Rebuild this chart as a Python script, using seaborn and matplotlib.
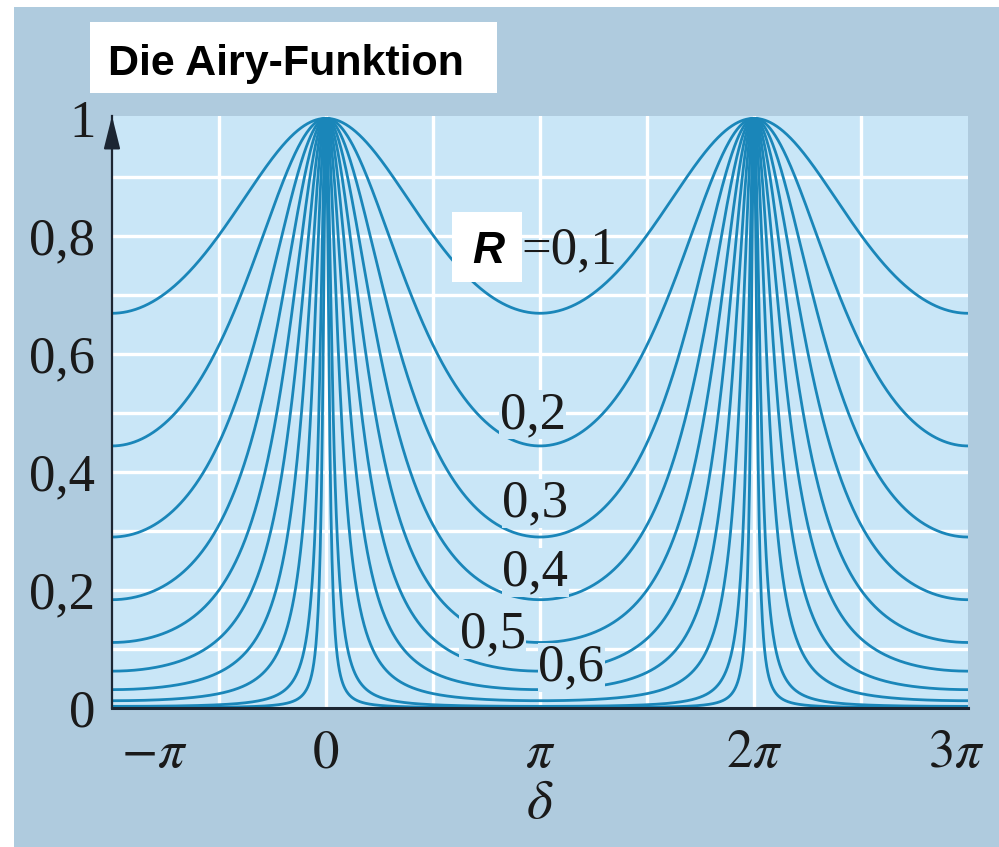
import matplotlib
matplotlib.use("Agg")
import matplotlib.pyplot as plt
from matplotlib.patches import Rectangle
from matplotlib.transforms import ScaledTranslation
import seaborn as sns
import pandas as pd
import numpy as np

# reflectivity values of the plotted curves (labels 0,1 ... 0,6 visible, rest below)
R_values = [0.1, 0.2, 0.3, 0.4, 0.5, 0.6, 0.7, 0.8, 0.9, 0.95]
x_ticks = [-np.pi, 0, np.pi, 2 * np.pi, 3 * np.pi]
x_labels = [r'$-\pi$', r'$0$', r'$\pi$', r'$2\pi$', r'$3\pi$']
y_ticks = [0, 0.2, 0.4, 0.6, 0.8, 1.0]
y_labels = ['0', '0,2', '0,4', '0,6', '0,8', '1']
curve_labels = ['0,2', '0,3', '0,4', '0,5', '0,6']

# Airy transmission curves, one per R
delta = np.linspace(-np.pi, 3 * np.pi, 1600)
rows = []
for R in R_values:
    F = 4 * R / (1 - R) ** 2
    I = 1 / (1 + F * np.sin(delta / 2) ** 2)
    rows.append(pd.DataFrame({'delta': delta, 'I': I, 'R': R}))
df = pd.concat(rows, ignore_index=True)

sns.set_style("white")
plt.rcParams['mathtext.fontset'] = 'stix'
plt.rcParams['font.family'] = ['Liberation Serif', 'DejaVu Serif']
plt.rcParams['text.color'] = '#1a1a1a'
plt.rcParams['xtick.color'] = '#1a1a1a'
plt.rcParams['ytick.color'] = '#1a1a1a'
plt.rcParams['axes.labelcolor'] = '#1a1a1a'

W, H = 999, 847
fig = plt.figure(figsize=(W / 100, H / 100), dpi=100)
fig.patch.set_facecolor('white')

def fx(px):
    return px / W

def fy(py):
    return 1 - py / H

# blue-grey panel behind everything
fig.patches.append(Rectangle((fx(14), 0), 1 - fx(14), fy(7), transform=fig.transFigure,
                             facecolor='#afcbde', edgecolor='none', zorder=-5))

ax = fig.add_axes([fx(112), fy(708), fx(968) - fx(112), fy(116) - fy(708)])
ax.set_facecolor('#c9e6f7')

# white grid, interior lines only
for gx in np.arange(-np.pi / 2, 3 * np.pi - 0.01, np.pi / 2):
    ax.axvline(gx, color='white', linewidth=2.4, zorder=1)
for gy in np.arange(0.1, 0.95, 0.1):
    ax.axhline(gy, color='white', linewidth=2.4, zorder=1)

sns.lineplot(data=df, x='delta', y='I', units='R', estimator=None,
             color='#1a86b9', linewidth=2.0, ax=ax, zorder=3)

ax.set_xlim(-np.pi, 3 * np.pi)
ax.set_ylim(0, 1.004)

ax.set_xticks(x_ticks)
ax.set_yticks(y_ticks)
ax.set_xticklabels(x_labels, fontsize=38)
ax.set_yticklabels(y_labels, fontsize=38)
ax.tick_params(which='both', length=0)
ax.tick_params(axis='y', pad=12)
ax.tick_params(axis='x', pad=16)
ax.grid(False)

# shift the edge tick labels inward like the original
xl = ax.get_xticklabels()
xl[0].set_transform(xl[0].get_transform() + ScaledTranslation(0.42, 0, fig.dpi_scale_trans))
xl[-1].set_transform(xl[-1].get_transform() + ScaledTranslation(-0.12, 0, fig.dpi_scale_trans))

ax.set_xlabel(r'$\delta$', fontsize=40, labelpad=0)
ax.set_ylabel('')

for side in ['top', 'right']:
    ax.spines[side].set_visible(False)
ax.spines['left'].set_color('#1c2633')
ax.spines['left'].set_linewidth(1.6)
ax.spines['bottom'].set_color('#1c2633')
ax.spines['bottom'].set_linewidth(2.2)
ax.spines['left'].set_zorder(5)
ax.spines['bottom'].set_zorder(5)

# arrow head on the y axis
ax.annotate('', xy=(-np.pi, 1.004), xytext=(-np.pi, 0.95),
            arrowprops=dict(arrowstyle='-|>,head_length=1.0,head_width=0.25',
                            color='#1c2633', lw=1.6, shrinkA=0, shrinkB=0,
                            mutation_scale=20),
            annotation_clip=False, zorder=6)

# curve labels
label_pos = [(0.967, 0.475), (0.977, 0.325), (0.977, 0.208), (0.780, 0.103), (1.145, 0.047)]
for txt, (xp, yp) in zip(curve_labels, label_pos):
    ax.text(xp * np.pi, yp, txt, fontsize=38, ha='center', va='baseline', color='#1a1a1a',
            zorder=4, bbox=dict(facecolor='#c9e6f7', edgecolor='none', pad=0.5))
ax.text(0.912 * np.pi, 0.754, '=0,1', fontsize=38, ha='left', va='baseline', color='#1a1a1a', zorder=4)

# white box with bold italic R
fig.patches.append(Rectangle((fx(452), fy(282)), fx(522) - fx(452), fy(212) - fy(282),
                             transform=fig.transFigure, facecolor='white', edgecolor='none', zorder=5))
fig.text(fx(488), fy(263), 'R', fontsize=32, fontweight='bold', fontstyle='italic', color='black',
         family=['Liberation Sans', 'DejaVu Sans'], ha='center', va='baseline', zorder=6)

# title box
fig.patches.append(Rectangle((fx(90), fy(93)), fx(497) - fx(90), fy(22) - fy(93),
                             transform=fig.transFigure, facecolor='white', edgecolor='none', zorder=5))
fig.text(fx(286), fy(75), 'Die Airy-Funktion', fontsize=31, fontweight='bold', color='black',
         family=['Liberation Sans', 'DejaVu Sans'], ha='center', va='baseline', zorder=6)

fig.savefig('out.png', dpi=100)
